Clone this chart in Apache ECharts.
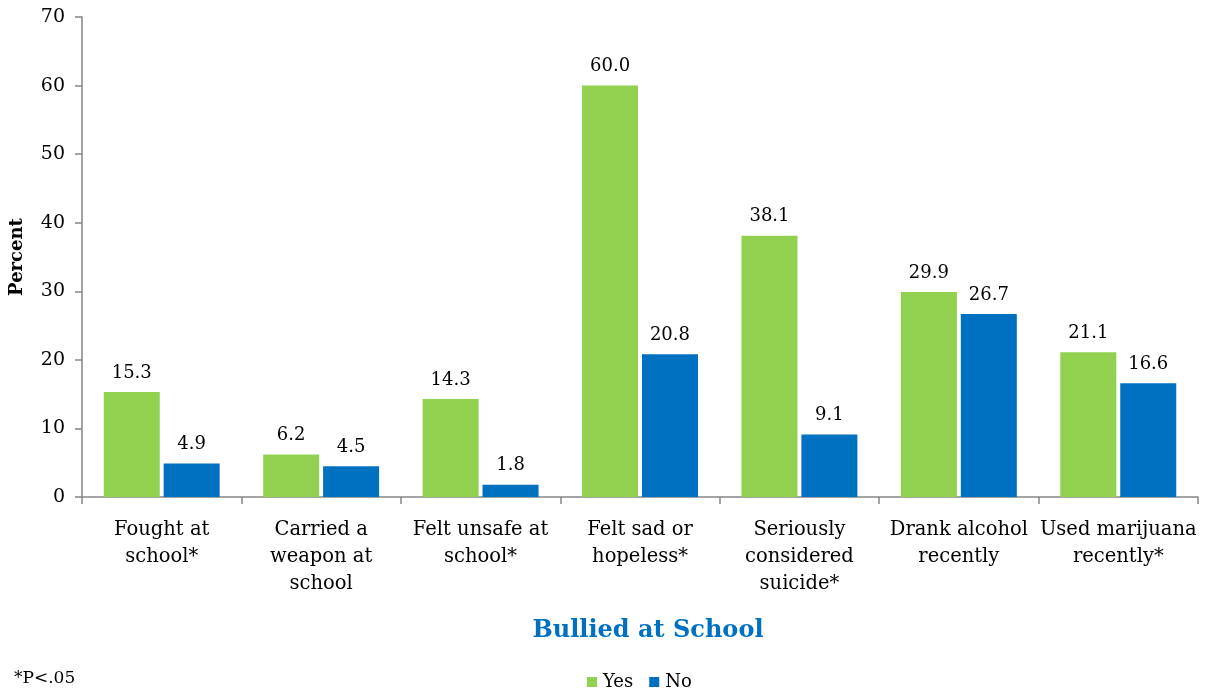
<!DOCTYPE html>
<html><head><meta charset="utf-8">
<script src="https://cdn.jsdelivr.net/npm/echarts@6/dist/echarts.min.js"></script>
<style>html,body{margin:0;padding:0;background:#fff}#c{width:1209px;height:692px}</style>
</head><body><div id="c"></div>
<script>
const categories = ["Fought at\nschool*", "Carried a\nweapon at\nschool", "Felt unsafe at\nschool*", "Felt sad or\nhopeless*", "Seriously\nconsidered\nsuicide*", "Drank alcohol\nrecently", "Used marijuana\nrecently*"];
const yesValues = [15.3, 6.2, 14.3, 60.0, 38.1, 29.9, 21.1];
const noValues = [4.9, 4.5, 1.8, 20.8, 9.1, 26.7, 16.6];
const yTicks = [0, 10, 20, 30, 40, 50, 60, 70];
const FONT = "DejaVu Serif";
const chart = echarts.init(document.getElementById('c'));
const lbl = {show: true, position: 'top', distance: 10, color: '#000', fontFamily: FONT, fontSize: 18, formatter: p => p.value.toFixed(1)};
chart.setOption({
  animation: false,
  grid: {left: 76, right: 11, top: 17, bottom: 195, containLabel: false},
  title: [
    {text: 'Bullied at School', left: 643, top: 614, textAlign: 'center', textStyle: {fontFamily: FONT, fontWeight: 'bold', fontSize: 24, color: '#0070C0'}},
    {text: '*P<.05', left: 9, top: 665, textStyle: {fontFamily: FONT, fontWeight: 'normal', fontSize: 17, color: '#000'}}
  ],
  legend: {top: 668, left: 582, itemWidth: 10, itemHeight: 10, itemGap: 16, icon: 'rect', textStyle: {fontFamily: FONT, fontSize: 18, color: '#000', padding: [0,0,0,1]}, data: ['Yes', 'No']},
  xAxis: {type: 'category', data: categories,
    axisLine: {lineStyle: {color: '#868686', width: 1.5}},
    axisTick: {show: true, length: 7, alignWithLabel: false, lineStyle: {color: '#868686', width: 1.5}},
    axisLabel: {interval: 0, margin: 19, fontFamily: FONT, fontSize: 19.5, lineHeight: 27, color: '#000', verticalAlign: 'top'}},
  yAxis: {type: 'value', min: 0, max: 70, interval: 10,
    name: 'Percent', nameLocation: 'middle', nameGap: 56, nameRotate: 90,
    nameTextStyle: {fontFamily: FONT, fontWeight: 'bold', fontSize: 18, color: '#000'},
    axisLine: {show: true, lineStyle: {color: '#868686', width: 1.5}},
    axisTick: {show: true, length: 7, lineStyle: {color: '#868686', width: 1.5}},
    splitLine: {show: false},
    axisLabel: {margin: 17, fontFamily: FONT, fontSize: 19, color: '#000', formatter: v => yTicks.includes(v) ? String(v) : ''}},
  series: [
    {name: 'Yes', type: 'bar', data: yesValues, barWidth: 56, barGap: '7%', itemStyle: {color: '#92D050'}, label: lbl},
    {name: 'No', type: 'bar', data: noValues, barWidth: 56, itemStyle: {color: '#0070C0'}, label: lbl}
  ]
});
</script></body></html>
